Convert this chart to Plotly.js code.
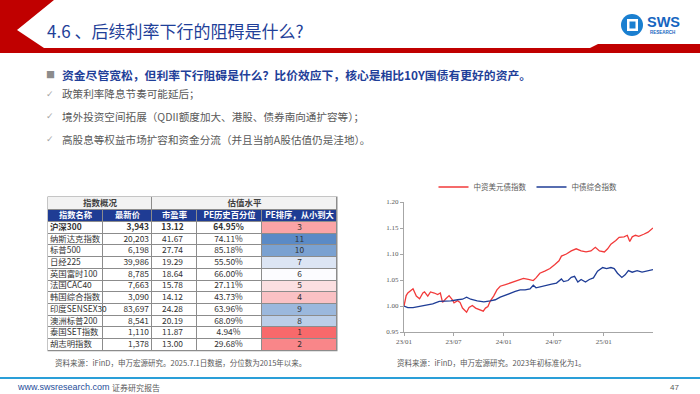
<!DOCTYPE html>
<html><head><meta charset="utf-8">
<script src="https://cdn.plot.ly/plotly-3.0.1.min.js"></script>
<style>html,body{margin:0;padding:0;background:#fff;}#chart{width:700px;height:394px;}</style>
</head><body><div id="chart"></div>
<script>
// ---------- data ----------
const tableGroups = ['指数概况', '估值水平'];
const tableHeaders = ['指数名称', '最新价', '市盈率', 'PE历史百分位', 'PE排序，从小到大'];
const indexNames = ['沪深300', '纳斯达克指数', '标普500', '日经225', '英国富时100', '法国CAC40', '韩国综合指数', '印度SENSEX30', '澳洲标普200', '泰国SET指数', '胡志明指数'];
const latestPrice = [3943, 20203, 6198, 39986, 8785, 7663, 3090, 83697, 8541, 1110, 1378];
const peRatio = [13.12, 41.67, 27.74, 19.29, 18.64, 15.78, 14.12, 24.28, 20.19, 11.87, 13.00];
const pePercentile = [64.95, 74.11, 85.18, 55.50, 66.00, 27.11, 43.73, 63.96, 68.09, 4.94, 29.68];
const peRank = [3, 11, 10, 7, 6, 5, 4, 9, 8, 1, 2];

const seriesNames = ['中资美元债指数', '中债综合指数'];
const redDates = ['2023-01-01','2023-01-09','2023-01-15','2023-02-03','2023-02-15','2023-02-27','2023-03-11','2023-03-17','2023-03-29','2023-04-08','2023-04-22','2023-05-04','2023-05-14','2023-05-22','2023-06-03','2023-06-15','2023-06-27','2023-07-03','2023-07-16','2023-07-25','2023-08-03','2023-08-18','2023-08-27','2023-09-08','2023-09-20','2023-10-06','2023-10-18','2023-10-26','2023-11-04','2023-11-13','2023-11-25','2023-12-07','2023-12-19','2024-01-07','2024-01-25','2024-02-06','2024-02-24','2024-03-13','2024-03-31','2024-04-18','2024-04-28','2024-05-12','2024-05-30','2024-06-18','2024-07-06','2024-07-21','2024-07-30','2024-08-17','2024-09-04','2024-09-22','2024-10-10','2024-10-28','2024-11-15','2024-12-01','2024-12-16','2025-01-03','2025-01-15','2025-01-27','2025-02-14','2025-02-26','2025-03-16','2025-03-28','2025-04-06','2025-04-15','2025-04-27','2025-05-09','2025-05-27','2025-06-12','2025-06-30'];
const redValues = [1.000,1.020,1.025,1.033,1.019,1.014,1.025,1.027,1.019,1.027,1.025,1.022,1.025,1.007,1.014,1.020,1.012,1.006,1.010,1.007,0.996,0.988,0.997,1.001,0.996,0.993,0.990,0.996,0.999,1.010,1.019,1.031,1.038,1.041,1.044,1.046,1.049,1.053,1.051,1.049,1.054,1.063,1.067,1.072,1.080,1.087,1.096,1.100,1.106,1.110,1.106,1.104,1.106,1.113,1.106,1.104,1.110,1.119,1.126,1.132,1.133,1.136,1.124,1.133,1.136,1.134,1.138,1.142,1.150];
const blueDates = ['2023-01-01','2023-01-15','2023-02-03','2023-02-27','2023-03-23','2023-04-16','2023-05-10','2023-05-28','2023-06-21','2023-07-16','2023-08-03','2023-08-18','2023-09-02','2023-09-26','2023-10-20','2023-11-13','2023-12-01','2023-12-19','2024-01-07','2024-01-25','2024-02-12','2024-03-01','2024-03-19','2024-04-06','2024-04-18','2024-04-28','2024-05-18','2024-06-05','2024-06-24','2024-07-12','2024-07-30','2024-08-07','2024-08-23','2024-09-04','2024-09-16','2024-09-28','2024-10-10','2024-10-26','2024-11-09','2024-11-24','2024-12-09','2024-12-28','2025-01-11','2025-01-27','2025-02-08','2025-02-20','2025-03-08','2025-03-20','2025-04-01','2025-04-15','2025-05-03','2025-05-21','2025-06-09','2025-06-30'];
const blueValues = [1.000,0.997,0.997,0.999,1.001,1.004,1.009,1.009,1.010,1.012,1.013,1.017,1.013,1.010,1.008,1.010,1.012,1.017,1.021,1.025,1.028,1.031,1.031,1.033,1.040,1.035,1.037,1.039,1.042,1.044,1.052,1.047,1.049,1.055,1.057,1.046,1.051,1.046,1.051,1.054,1.067,1.074,1.072,1.074,1.072,1.063,1.055,1.060,1.068,1.065,1.068,1.065,1.068,1.070];
const xTickVals = ['2023-01-01','2023-07-01','2024-01-01','2024-07-01','2025-01-01'];
const xTickText = ['23/01','23/07','24/01','24/07','25/01'];

const titleText = '4.6 、后续利率下行的阻碍是什么?';
const bulletMain = '资金尽管宽松，但利率下行阻碍是什么？比价效应下，核心是相比10Y国债有更好的资产。';
const bulletSubs = ['政策利率降息节奏可能延后；', '境外投资空间拓展（QDII额度加大、港股、债券南向通扩容等）；', '高股息等权益市场扩容和资金分流（并且当前A股估值仍是洼地）。'];
const sourceLeft = '资料来源：iFinD，申万宏源研究。2025.7.1日数据，分位数为2015年以来。';
const sourceRight = '资料来源：iFinD，申万宏源研究。2023年初标准化为1。';

// ---------- helpers / layout constants ----------
const W = 700, H = 394;
const fx = x => x / W, fy = y => 1 - y / H;
const P = (x, y) => fx(x).toFixed(5) + ',' + fy(y).toFixed(5);
const CJK = 'Noto Sans CJK SC, sans-serif';

// table geometry (pixel units on the table's own axes)
const colW = [55, 49, 45, 65, 75];
const xEdges = colW.reduce((a, w) => { a.push(a[a.length - 1] + w); return a; }, [0]);
const tableTop = 197, grpH = 13, hdrH = 12, rowH = 11.7;
const hdrTop = tableTop + grpH, bodyTop = hdrTop + hdrH;
const bodyEdges = indexNames.map((_, i) => bodyTop + rowH * i).concat([bodyTop + rowH * indexNames.length]);
const tableBottom = bodyEdges[bodyEdges.length - 1];
const rowMid = i => bodyTop + rowH * (i + 0.5);
const colMid = j => (xEdges[j] + xEdges[j + 1]) / 2;
const solid = c => [[0, c], [1, c]];

const fmtInt = v => v.toLocaleString('en-US');
const bodyText = [], bodyX = [], bodyY = [], bodyPos = [];
indexNames.forEach((name, i) => {
  const b = s => (i === 0 ? '<b>' + s + '</b>' : s);
  const cells = [
    [b(name), xEdges[0] + 2, 'middle right'],
    [b(fmtInt(latestPrice[i])), xEdges[2] - 3, 'middle left'],
    [b(peRatio[i].toFixed(2)), colMid(2) - 2, 'middle center'],
    [b(pePercentile[i].toFixed(2) + '%'), colMid(3) - 1, 'middle center'],
    [String(peRank[i]), colMid(4), 'middle center']
  ];
  cells.forEach(c => { bodyText.push(c[0]); bodyX.push(c[1]); bodyY.push(rowMid(i)); bodyPos.push(c[2]); });
});

const hm = (extra) => Object.assign({type: 'heatmap', xaxis: 'x2', yaxis: 'y2', showscale: false,
  xgap: 1, ygap: 1, hoverinfo: 'skip', showlegend: false}, extra);

const traces = [
  // table backgrounds (merged top row: columns 0-1 and 2-4)
  hm({x: [xEdges[0], xEdges[2], xEdges[5]], y: [tableTop, hdrTop], z: [tableGroups.map(() => 0)],
      colorscale: solid('#f2f2f2')}),
  hm({x: xEdges, y: [hdrTop, bodyTop], z: [tableHeaders.map(() => 0)], colorscale: solid('#1f3c94')}),
  hm({x: xEdges.slice(0, 5), y: bodyEdges, z: indexNames.map(() => [0, 0, 0, 0]), colorscale: solid('#ffffff')}),
  hm({x: [xEdges[4], xEdges[5]], y: bodyEdges, z: peRank.map(r => [r]), zmin: 1, zmax: 11,
      colorscale: [[0, '#f8696b'], [0.5, '#fcfcff'], [1, '#5a8ac6']]}),
  // table texts
  {type: 'scatter', mode: 'text', xaxis: 'x2', yaxis: 'y2', showlegend: false, hoverinfo: 'skip', cliponaxis: false,
   x: [(xEdges[0] + xEdges[2]) / 2, (xEdges[2] + xEdges[5]) / 2], y: [tableTop + grpH / 2, tableTop + grpH / 2],
   text: tableGroups.map(t => '<b>' + t + '</b>'), textposition: 'middle center',
   textfont: {family: CJK, size: 8.5, color: '#404040'}},
  {type: 'scatter', mode: 'text', xaxis: 'x2', yaxis: 'y2', showlegend: false, hoverinfo: 'skip', cliponaxis: false,
   x: tableHeaders.map((_, j) => colMid(j)), y: tableHeaders.map(() => hdrTop + hdrH / 2),
   text: tableHeaders.map(t => '<b>' + t + '</b>'), textposition: 'middle center',
   textfont: {family: CJK, size: 8.3, color: '#ffffff'}},
  {type: 'scatter', mode: 'text', xaxis: 'x2', yaxis: 'y2', showlegend: false, hoverinfo: 'skip', cliponaxis: false,
   x: bodyX, y: bodyY, text: bodyText, textposition: bodyPos,
   textfont: {family: CJK, size: 8.4, color: '#333333'}},
  // line chart
  {type: 'scatter', mode: 'lines', name: seriesNames[0], x: redDates, y: redValues,
   xaxis: 'x', yaxis: 'y', line: {color: '#f23a3a', width: 1.3}},
  {type: 'scatter', mode: 'lines', name: seriesNames[1], x: blueDates, y: blueValues,
   xaxis: 'x', yaxis: 'y', line: {color: '#1f3d96', width: 1.3}}
];

const ann = (x, y, text, size, color, extra) => Object.assign({
  xref: 'paper', yref: 'paper', x: fx(x), y: fy(y), text: text, showarrow: false,
  xanchor: 'left', yanchor: 'middle', font: {family: CJK, size: size, color: color}
}, extra || {});
const checkFont = {family: 'DejaVu Sans', size: 9, color: '#a6a6a6'};

const annotations = [
  ann(45, 31, titleText, 17, '#1f3f99'),
  ann(44, 75, '■', 9, '#8c8c8c'),
  ann(60, 75, '<b>' + bulletMain + '</b>', 11.8, '#1f3f99'),
  ann(44, 94, '✓', 9, '#a6a6a6', {font: checkFont}),
  ann(60, 94, bulletSubs[0], 10.6, '#595959'),
  ann(44, 116, '✓', 9, '#a6a6a6', {font: checkFont}),
  ann(60, 116, bulletSubs[1], 10.6, '#595959'),
  ann(44, 139, '✓', 9, '#a6a6a6', {font: checkFont}),
  ann(60, 139, bulletSubs[2], 10.6, '#595959'),
  ann(53, 362, sourceLeft, 7.5, '#595959'),
  ann(395, 362, sourceRight, 7.5, '#595959'),
  ann(15, 387, 'www.swsresearch.com', 9, '#1f4e9a', {font: {family: 'Liberation Sans', size: 9, color: '#1f4e9a'}}),
  ann(110, 387, '证券研究报告', 8, '#595959'),
  ann(668, 387, '47', 8, '#595959', {font: {family: 'Liberation Sans', size: 8, color: '#595959'}}),
  ann(645, 22, '<b>SWS</b>', 14, '#1565c0', {font: {family: 'Liberation Sans', size: 14.5, color: '#1565c0'}}),
  ann(648, 33, '<b>RESEARCH</b>', 4.5, '#1565c0', {font: {family: 'Liberation Sans', size: 4.5, color: '#1565c0'}})
];

const shapes = [
  // table grid colour showing through the heatmap gaps
  {type: 'rect', layer: 'below', xref: 'paper', yref: 'paper', x0: fx(47.5), x1: fx(337.5), y0: fy(tableBottom + 0.5), y1: fy(tableTop - 0.5),
   fillcolor: '#8c8c8c', line: {width: 0}},
  // header chevron + red bar
  {type: 'path', xref: 'paper', yref: 'paper', line: {width: 0}, fillcolor: '#c00000',
   path: 'M' + P(0, 0) + ' L' + P(54, 0) + ' L' + P(17, 30) + ' L' + P(44, 48) + ' L' + P(44, 53) + ' L' + P(0, 53) + ' Z'},
  {type: 'path', xref: 'paper', yref: 'paper', line: {width: 0}, fillcolor: '#c00000',
   path: 'M' + P(40, 48) + ' L' + P(590, 48) + ' L' + P(598, 44) + ' L' + P(700, 44) + ' L' + P(700, 53) + ' L' + P(40, 53) + ' Z'},
  // logo
  {type: 'circle', xref: 'paper', yref: 'paper', x0: fx(621), x1: fx(643), y0: fy(36), y1: fy(14),
   fillcolor: '#1a7fd0', line: {width: 0}},
  {type: 'rect', xref: 'paper', yref: 'paper', x0: fx(627), x1: fx(638), y0: fy(31), y1: fy(19),
   fillcolor: '#ffffff', line: {width: 0}},
  {type: 'rect', xref: 'paper', yref: 'paper', x0: fx(629.5), x1: fx(635.5), y0: fy(28.5), y1: fy(21.5),
   fillcolor: '#1a7fd0', line: {width: 0}},
  // footer line
  {type: 'line', xref: 'paper', yref: 'paper', x0: 0, x1: 1, y0: fy(378), y1: fy(378),
   line: {color: '#2a9fd8', width: 2}}
];

const layout = {
  width: W, height: H, margin: {l: 0, r: 0, t: 0, b: 0},
  paper_bgcolor: '#ffffff', plot_bgcolor: 'rgba(0,0,0,0)',
  showlegend: true,
  legend: {orientation: 'h', x: fx(528), xanchor: 'center', y: fy(187), yanchor: 'middle',
    font: {family: CJK, size: 7.5, color: '#595959'}, bgcolor: 'rgba(0,0,0,0)'},
  xaxis: {domain: [fx(404), fx(653)], anchor: 'y', type: 'date',
    range: ['2023-01-01', '2025-06-30'], tickvals: xTickVals, ticktext: xTickText,
    showgrid: false, zeroline: false, showline: true, linecolor: '#a6a6a6', linewidth: 1,
    ticks: 'outside', ticklen: 3, tickcolor: '#a6a6a6',
    tickfont: {family: 'Liberation Serif', size: 7, color: '#595959'}},
  yaxis: {domain: [fy(332), fy(202)], anchor: 'x', range: [0.95, 1.20], dtick: 0.05, tick0: 0.95,
    tickformat: '.2f', showgrid: false, zeroline: false, showline: true, linecolor: '#a6a6a6', linewidth: 1,
    ticks: 'outside', ticklen: 3, tickcolor: '#a6a6a6',
    tickfont: {family: 'Liberation Serif', size: 7, color: '#595959'}},
  xaxis2: {domain: [fx(48), fx(337)], anchor: 'y2', range: [xEdges[0], xEdges[5]], visible: false, fixedrange: true},
  yaxis2: {domain: [fy(tableBottom), fy(tableTop)], anchor: 'x2', range: [tableBottom, tableTop], visible: false, fixedrange: true},
  annotations: annotations,
  shapes: shapes
};

Plotly.newPlot('chart', traces, layout, {displayModeBar: false, staticPlot: true});
</script>
</body></html>
